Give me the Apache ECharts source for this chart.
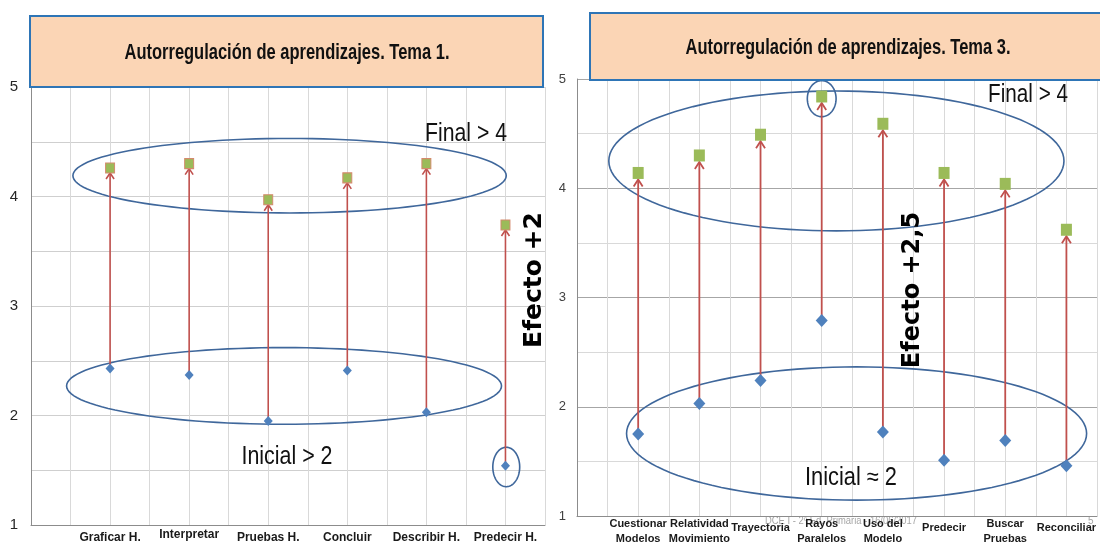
<!DOCTYPE html>
<html>
<head>
<meta charset="utf-8">
<script src="https://cdn.jsdelivr.net/npm/echarts@6/dist/echarts.min.js"></script>
<style>
  html, body { margin: 0; padding: 0; background: #ffffff; }
  #chart { width: 1100px; height: 545px; }
</style>
</head>
<body>
<div id="chart"></div>
<script>
// ---- Tema 1 ----
const tema1Skills  = ['Graficar H.', 'Interpretar', 'Pruebas H.', 'Concluir', 'Describir H.', 'Predecir H.'];
const tema1Inicial = [2.43, 2.37, 1.95, 2.41, 2.03, 1.54];
const tema1Final   = [4.26, 4.30, 3.97, 4.17, 4.30, 3.74];

// ---- Tema 3 ----
const tema3Skills  = ['Cuestionar\nModelos', 'Relatividad\nMovimiento', 'Trayectoria', 'Rayos\nParalelos',
                      'Uso del\nModelo', 'Predecir', 'Buscar\nPruebas', 'Reconciliar'];
const tema3Inicial = [1.75, 2.03, 2.24, 2.79, 1.77, 1.51, 1.69, 1.46];
const tema3Final   = [4.14, 4.30, 4.49, 4.84, 4.59, 4.14, 4.04, 3.62];

// value-axis tick labels shown on the vertical axes
const scoreTicks = [1, 2, 3, 4, 5];

// grouping outlines: [centre x, centre y, radius x, radius y] in axis units
const tema1Groups = [[3.27, 4.19, 2.74, 0.34], [3.20, 2.27, 2.75, 0.35], [6.01, 1.53, 0.17, 0.18]];
const tema3Groups = [[4.24, 4.25, 3.72, 0.64], [4.57, 1.755, 3.76, 0.61], [4.00, 4.82, 0.235, 0.165]];

// ---------------------------------------------------------------
const SANS = "'Liberation Sans', Arial, sans-serif";
const RED = '#c0504d';
const GREEN = '#9bbb59';
const BLUE = '#4f81bd';
const OUTLINE = '#3f679b';
const INK = '#111111';

const measureCtx = document.createElement('canvas').getContext('2d');
// horizontal squeeze that brings a string to the wanted width (condensed look)
function fitScale(text, font, width) {
  measureCtx.font = font;
  return width / measureCtx.measureText(text).width;
}

function points(values) {
  return values.map((v, i) => [i + 1, v]);
}
function spans(inicial, final) {
  return inicial.map((v, i) => [i + 1, v, final[i]]);
}

// red upward arrow from the initial score to the final score
function arrowRenderer(headW, headH, gap, width) {
  return function (params, api) {
    const x = api.value(0);
    const a = api.coord([x, api.value(1)]);
    const b = api.coord([x, api.value(2)]);
    const tip = b[1] + gap;
    return {
      type: 'group',
      children: [
        { type: 'line', shape: { x1: a[0], y1: a[1], x2: b[0], y2: tip + 1 },
          style: { stroke: RED, lineWidth: width } },
        { type: 'polyline',
          shape: { points: [[b[0] - headW / 2, tip + headH], [b[0], tip], [b[0] + headW / 2, tip + headH]] },
          style: { stroke: RED, fill: 'none', lineWidth: width } }
      ]
    };
  };
}

// outline ellipse given in axis units
function ellipseRenderer(params, api) {
  const c = api.coord([api.value(0), api.value(1)]);
  const s = api.size([api.value(2), api.value(3)]);
  const pts = [];
  const n = 120;
  for (let k = 0; k < n; k++) {
    const t = (k / n) * Math.PI * 2;
    pts.push([c[0] + s[0] * Math.cos(t), c[1] + s[1] * Math.sin(t)]);
  }
  return { type: 'polygon', shape: { points: pts },
           style: { fill: 'none', stroke: OUTLINE, lineWidth: 1.6 } };
}

function categoryFormatter(skills, raised) {
  return function (v) {
    if (Math.abs(v - Math.round(v)) > 1e-6) return '';
    const name = skills[Math.round(v) - 1];
    if (!name) return '';
    const style = raised(name) ? 'a' : 'b';
    return name.split('\n').map(line => '{' + style + '|' + line + '}').join('\n');
  };
}

function caption(x, y, text, size, width) {
  const font = size + 'px ' + SANS;
  return { type: 'text', z: 40, x: x, y: y, scaleX: fitScale(text, font, width),
           style: { text: text, font: font, fill: INK, align: 'center', verticalAlign: 'middle' } };
}

const chart = echarts.init(document.getElementById('chart'), null, { renderer: 'canvas' });

const titleFont = "bold 22px " + SANS;
const title1 = 'Autorregulación de aprendizajes. Tema 1.';
const title3 = 'Autorregulación de aprendizajes. Tema 3.';
const footerFont = '10px ' + SANS;
const footer = 'DCE I - 2º Ed. Primaria - 16/06/2017';

const labelBase = { fontFamily: SANS, fontWeight: 'bold', color: '#1a1a1a' };

const option = {
  animation: false,
  backgroundColor: '#ffffff',
  grid: [
    { left: 31, top: 87, width: 514, height: 438 },
    { left: 577, top: 79, width: 527, height: 437 }
  ],
  xAxis: [
    {
      gridIndex: 0, type: 'value', min: 0, max: 6.5, interval: 0.5,
      axisLine: { show: true, lineStyle: { color: '#8c8c8c', width: 1 } },
      axisTick: { show: false },
      splitLine: { show: true, lineStyle: { color: '#d9d9d9', width: 1 } },
      axisLabel: {
        margin: 3, showMinLabel: true, showMaxLabel: true,
        formatter: categoryFormatter(tema1Skills, name => name === 'Interpretar'),
        rich: {
          a: Object.assign({ fontSize: 12, lineHeight: 14 }, labelBase),
          b: Object.assign({ fontSize: 12, lineHeight: 14, padding: [6, 0, 0, 0] }, labelBase)
        }
      }
    },
    {
      gridIndex: 1, type: 'value', min: 0, max: 8.5, interval: 0.5,
      axisLine: { show: true, lineStyle: { color: '#8c8c8c', width: 1 } },
      axisTick: { show: false },
      splitLine: { show: true, lineStyle: { color: '#d9d9d9', width: 1 } },
      axisLabel: {
        margin: 0, showMinLabel: true, showMaxLabel: true,
        formatter: categoryFormatter(tema3Skills, name => name.indexOf('\n') >= 0),
        rich: {
          a: Object.assign({ fontSize: 11, lineHeight: 15 }, labelBase),
          b: Object.assign({ fontSize: 11, lineHeight: 15, padding: [8, 0, 0, 0] }, labelBase)
        }
      }
    }
  ],
  yAxis: [
    {
      gridIndex: 0, type: 'value', min: 1, max: 5, interval: 0.5,
      axisLine: { show: true, lineStyle: { color: '#8c8c8c', width: 1 } },
      axisTick: { show: false },
      splitLine: { show: true, lineStyle: { color: '#cfcfcf', width: 1 } },
      axisLabel: {
        margin: 13, fontFamily: SANS, fontSize: 15, color: '#262626',
        formatter: v => scoreTicks.indexOf(v) >= 0 ? String(v) : ''
      }
    },
    {
      gridIndex: 1, type: 'value', min: 1, max: 5, interval: 0.5,
      axisLine: { show: true, lineStyle: { color: '#8c8c8c', width: 1 } },
      axisTick: { show: false },
      splitLine: { show: true, lineStyle: { color: ['#a6a6a6', '#d9d9d9'], width: 1 } },
      axisLabel: {
        margin: 11, fontFamily: SANS, fontSize: 13, color: '#404040',
        formatter: v => scoreTicks.indexOf(v) >= 0 ? String(v) : ''
      }
    }
  ],
  series: [
    // Tema 1
    { type: 'custom', xAxisIndex: 0, yAxisIndex: 0, z: 2, silent: true,
      renderItem: ellipseRenderer, data: tema1Groups, encode: { x: 0, y: 1 } },
    { type: 'custom', xAxisIndex: 0, yAxisIndex: 0, z: 3, silent: true,
      renderItem: arrowRenderer(8, 6, 5, 1.6), data: spans(tema1Inicial, tema1Final), encode: { x: 0, y: [1, 2] } },
    { name: 'Inicial', type: 'scatter', xAxisIndex: 0, yAxisIndex: 0, z: 4,
      symbol: 'diamond', symbolSize: [9, 10], itemStyle: { color: BLUE, opacity: 1 },
      data: points(tema1Inicial) },
    { name: 'Final', type: 'scatter', xAxisIndex: 0, yAxisIndex: 0, z: 4,
      symbol: 'rect', symbolSize: [9, 10], itemStyle: { color: GREEN, borderColor: '#d4896c', borderWidth: 1, opacity: 1 },
      data: points(tema1Final) },
    // Tema 3
    { type: 'custom', xAxisIndex: 1, yAxisIndex: 1, z: 2, silent: true,
      renderItem: ellipseRenderer, data: tema3Groups, encode: { x: 0, y: 1 } },
    { type: 'custom', xAxisIndex: 1, yAxisIndex: 1, z: 3, silent: true,
      renderItem: arrowRenderer(9, 7, 6.5, 1.8), data: spans(tema3Inicial, tema3Final), encode: { x: 0, y: [1, 2] } },
    { name: 'Inicial', type: 'scatter', xAxisIndex: 1, yAxisIndex: 1, z: 4,
      symbol: 'diamond', symbolSize: [12, 13], itemStyle: { color: BLUE, opacity: 1 },
      data: points(tema3Inicial) },
    { name: 'Final', type: 'scatter', xAxisIndex: 1, yAxisIndex: 1, z: 4,
      symbol: 'rect', symbolSize: [11, 12], itemStyle: { color: GREEN, opacity: 1 },
      data: points(tema3Final) }
  ],
  graphic: [
    // slide footer, partly behind the axis labels
    { type: 'text', z: -1, x: 765, y: 521, scaleX: fitScale(footer, footerFont, 152),
      style: { text: footer, font: footerFont, fill: '#a6a6a6', verticalAlign: 'middle' } },
    { type: 'text', z: -1, x: 1088, y: 521,
      style: { text: '5', font: footerFont, fill: '#a6a6a6', verticalAlign: 'middle' } },

    // title boxes
    { type: 'rect', z: 50, shape: { x: 30, y: 16, width: 513, height: 71 },
      style: { fill: '#fbd5b5', stroke: '#2e75b6', lineWidth: 2 } },
    { type: 'text', z: 51, x: 287, y: 53, scaleX: fitScale(title1, titleFont, 325),
      style: { text: title1, font: titleFont, fill: INK, align: 'center', verticalAlign: 'middle' } },
    { type: 'rect', z: 50, shape: { x: 590, y: 13, width: 520, height: 67 },
      style: { fill: '#fbd5b5', stroke: '#2e75b6', lineWidth: 2 } },
    { type: 'text', z: 51, x: 848, y: 48, scaleX: fitScale(title3, titleFont, 325),
      style: { text: title3, font: titleFont, fill: INK, align: 'center', verticalAlign: 'middle' } },

    // group captions
    caption(466, 134, 'Final > 4', 25, 82),
    caption(287, 457, 'Inicial > 2', 25, 91),
    caption(1028, 95, 'Final > 4', 25, 80),
    caption(851, 478, 'Inicial ≈ 2', 25, 92),

    // effect labels, reading upwards
    { type: 'text', z: 40, x: 534, y: 280, rotation: Math.PI / 2,
      style: { text: 'Efecto +2', font: "bold 25px 'DejaVu Sans', sans-serif", fill: '#000000', align: 'center', verticalAlign: 'middle' } },
    { type: 'text', z: 40, x: 913, y: 290, rotation: Math.PI / 2,
      style: { text: 'Efecto +2,5', font: "bold 24px 'DejaVu Sans', sans-serif", fill: '#000000', align: 'center', verticalAlign: 'middle' } }
  ]
};

chart.setOption(option);
</script>
</body>
</html>
